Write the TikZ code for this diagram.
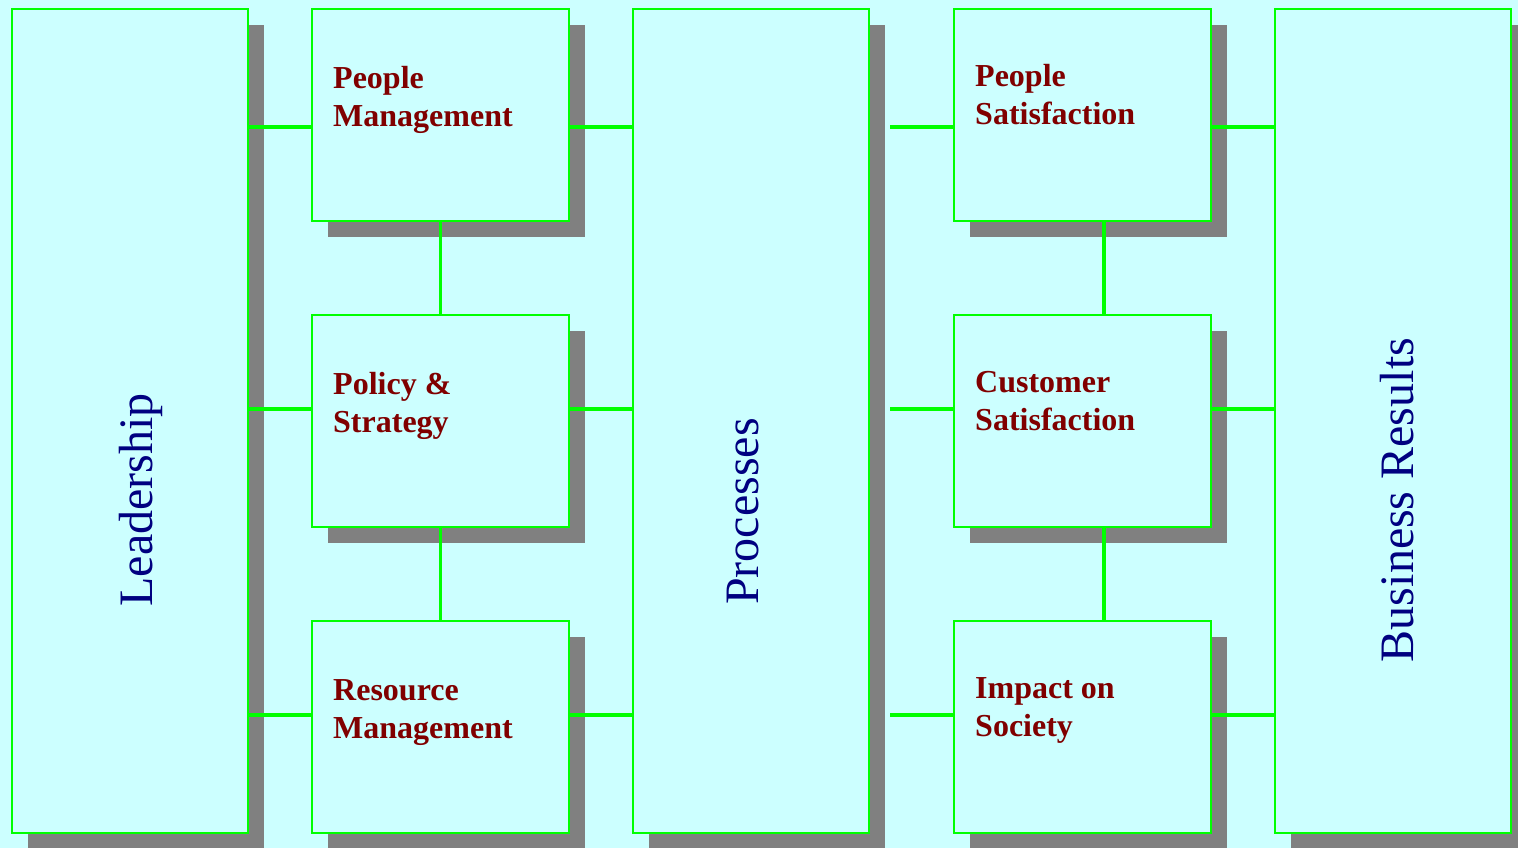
\documentclass[tikz,border=0pt]{standalone}
\usepackage{fontspec}
\setmainfont{Liberation Serif}
\usetikzlibrary{shadows}

\definecolor{bgcyan}{HTML}{CCFFFF}
\definecolor{boxgreen}{HTML}{00FF00}
\definecolor{shadowgray}{HTML}{808080}
\definecolor{labelred}{HTML}{800000}
\definecolor{titleblue}{HTML}{000080}

% two stacked lines whose baseline is that of the first line
\newcommand\stackedlabel[2]{\vtop{\hbox{#1}\hbox{#2}}}

\begin{document}
\begin{tikzpicture}[x=1pt, y=-1pt,
  panel/.style={rectangle, draw=boxgreen, line width=2pt, fill=bgcyan,
    inner sep=0pt, outer sep=0pt, anchor=north west,
    general shadow={fill=shadowgray, shadow xshift=16pt, shadow yshift=-16pt}},
  column/.style={panel, minimum width=236pt, minimum height=824pt},
  block/.style={panel, minimum width=257pt, minimum height=212pt},
  conn/.style={draw=boxgreen, line width=3.5pt},
  lbl/.style={anchor=base west, inner sep=0pt, text=labelred,
    font=\fontsize{32}{38}\selectfont\bfseries},
  title/.style={rotate=90, anchor=base, inner sep=0pt, text=titleblue,
    font=\fontsize{48}{56}\selectfont}]

\useasboundingbox (0,0) rectangle (1518,848);
\clip (0,0) rectangle (1518,848);
\fill[bgcyan] (0,0) rectangle (1518,848);

% tall columns
\node[column] (lead) at (12,9) {};
\node[column] (proc) at (633,9) {};
\node[column] (biz)  at (1275,9) {};

% enabler blocks
\node[block] (pm)  at (312,9)   {};
\node[block] (pol) at (312,315) {};
\node[block] (res) at (312,621) {};

% result blocks
\node[block] (ps)  at (954,9)   {};
\node[block] (cs)  at (954,315) {};
\node[block] (soc) at (954,621) {};

% block labels
\node[lbl] (pmt)  at ([shift={(21,79.5)}]pm.north west)  {\stackedlabel{People}{Management}};
\node[lbl] (polt) at ([shift={(21,79.5)}]pol.north west) {\stackedlabel{Policy \&}{Strategy}};
\node[lbl] (rest) at ([shift={(21,79.5)}]res.north west) {\stackedlabel{Resource}{Management}};
\node[lbl] (pst)  at ([shift={(21,77.5)}]ps.north west)  {\stackedlabel{People}{Satisfaction}};
\node[lbl] (cst)  at ([shift={(21,77.5)}]cs.north west)  {\stackedlabel{Customer}{Satisfaction}};
\node[lbl] (soct) at ([shift={(21,77.5)}]soc.north west) {\stackedlabel{Impact on}{Society}};

% column titles
\node[title] (leadt) at (152,500)   {Leadership};
\node[title] (proct) at (758,511.5) {Processes};
\node[title] (bizt)  at (1413,500)  {Business Results};

% connector rows
\coordinate (r1) at (0,127);
\coordinate (r2) at (0,409);
\coordinate (r3) at (0,715);
\coordinate (gap) at ([xshift=21pt]proc.east);

\foreach \r/\b in {r1/pm, r2/pol, r3/res} {
  \draw[conn] (lead.east |- \r) -- (\b.west |- \r);
  \draw[conn] (\b.east |- \r) -- (proc.west |- \r);
}
\foreach \r/\b in {r1/ps, r2/cs, r3/soc} {
  \draw[conn] (gap |- \r) -- (\b.west |- \r);
  \draw[conn] (\b.east |- \r) -- (biz.west |- \r);
}

% vertical links
\draw[conn] (pm.south) -- (pol.north);
\draw[conn] (pol.south) -- (res.north);
\draw[conn] ([xshift=21.5pt]ps.south) -- ([xshift=21.5pt]cs.north);
\draw[conn] ([xshift=21.5pt]cs.south) -- ([xshift=21.5pt]soc.north);
\end{tikzpicture}
\end{document}
